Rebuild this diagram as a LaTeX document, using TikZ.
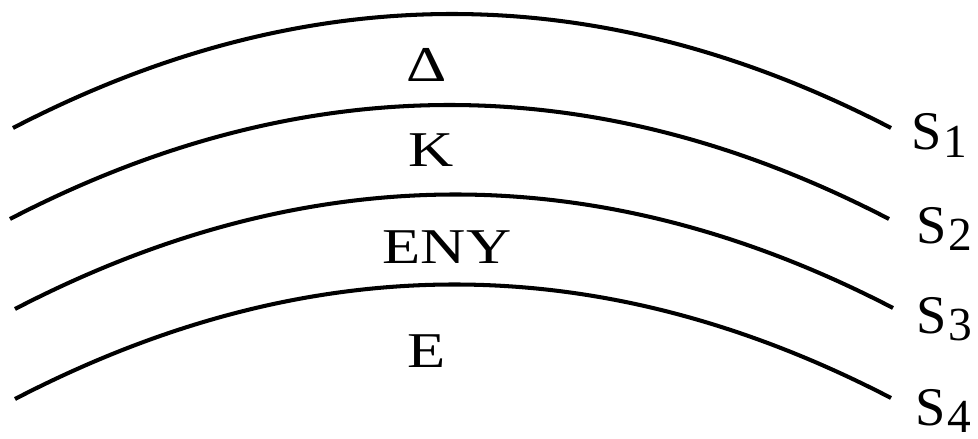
\documentclass[tikz,border=0pt]{standalone}
\usepackage{fontspec}
\setmainfont{Liberation Serif}
\newfontfamily\widefont{Liberation Serif}[FakeStretch=1.25]
\usepackage{tikz}
\usetikzlibrary{positioning}

\newcommand{\surfname}[1]{{\fontsize{31}{31}\selectfont S}\kern1pt{\fontsize{27}{27}\selectfont\raisebox{-4.5pt}{#1}}}

\begin{document}
\begin{tikzpicture}[
    x=0.02cm, y=-0.02cm,
    surface/.style={line width=2.3pt},
    layer/.style={font=\widefont\fontsize{28.5}{30}\selectfont, inner sep=0pt, anchor=base},
    surflabel/.style={inner sep=0pt, anchor=base west}
]
\useasboundingbox (0,0) rectangle (978,439);
% ends of the four surfaces
\coordinate (l1) at (13,128);  \coordinate (r1) at (891,128);
\coordinate (l2) at (10,219);  \coordinate (r2) at (889,219);
\coordinate (l3) at (15,309);  \coordinate (r3) at (893,308);
\coordinate (l4) at (15,399);  \coordinate (r4) at (891,398);
\foreach \i in {1,...,4}
    \draw[surface] (l\i) .. controls +(293,-152) and +(-293,-152) .. (r\i);
% layers between them
\node[layer] (delta) at (427,82) {Δ};
\node[layer] (k) at (431,167) {K};
\node[layer] (eny) at (447,263) {ENY};
\node[layer] (e) at (427,367) {E};
% surface names
\node[surflabel] (s1) at (911,150) {\surfname{1}};
\node[surflabel] (s2) at (916,243) {\surfname{2}};
\node[surflabel] (s3) at (916,333) {\surfname{3}};
\node[surflabel] (s4) at (915,425) {\surfname{4}};
\end{tikzpicture}
\end{document}
